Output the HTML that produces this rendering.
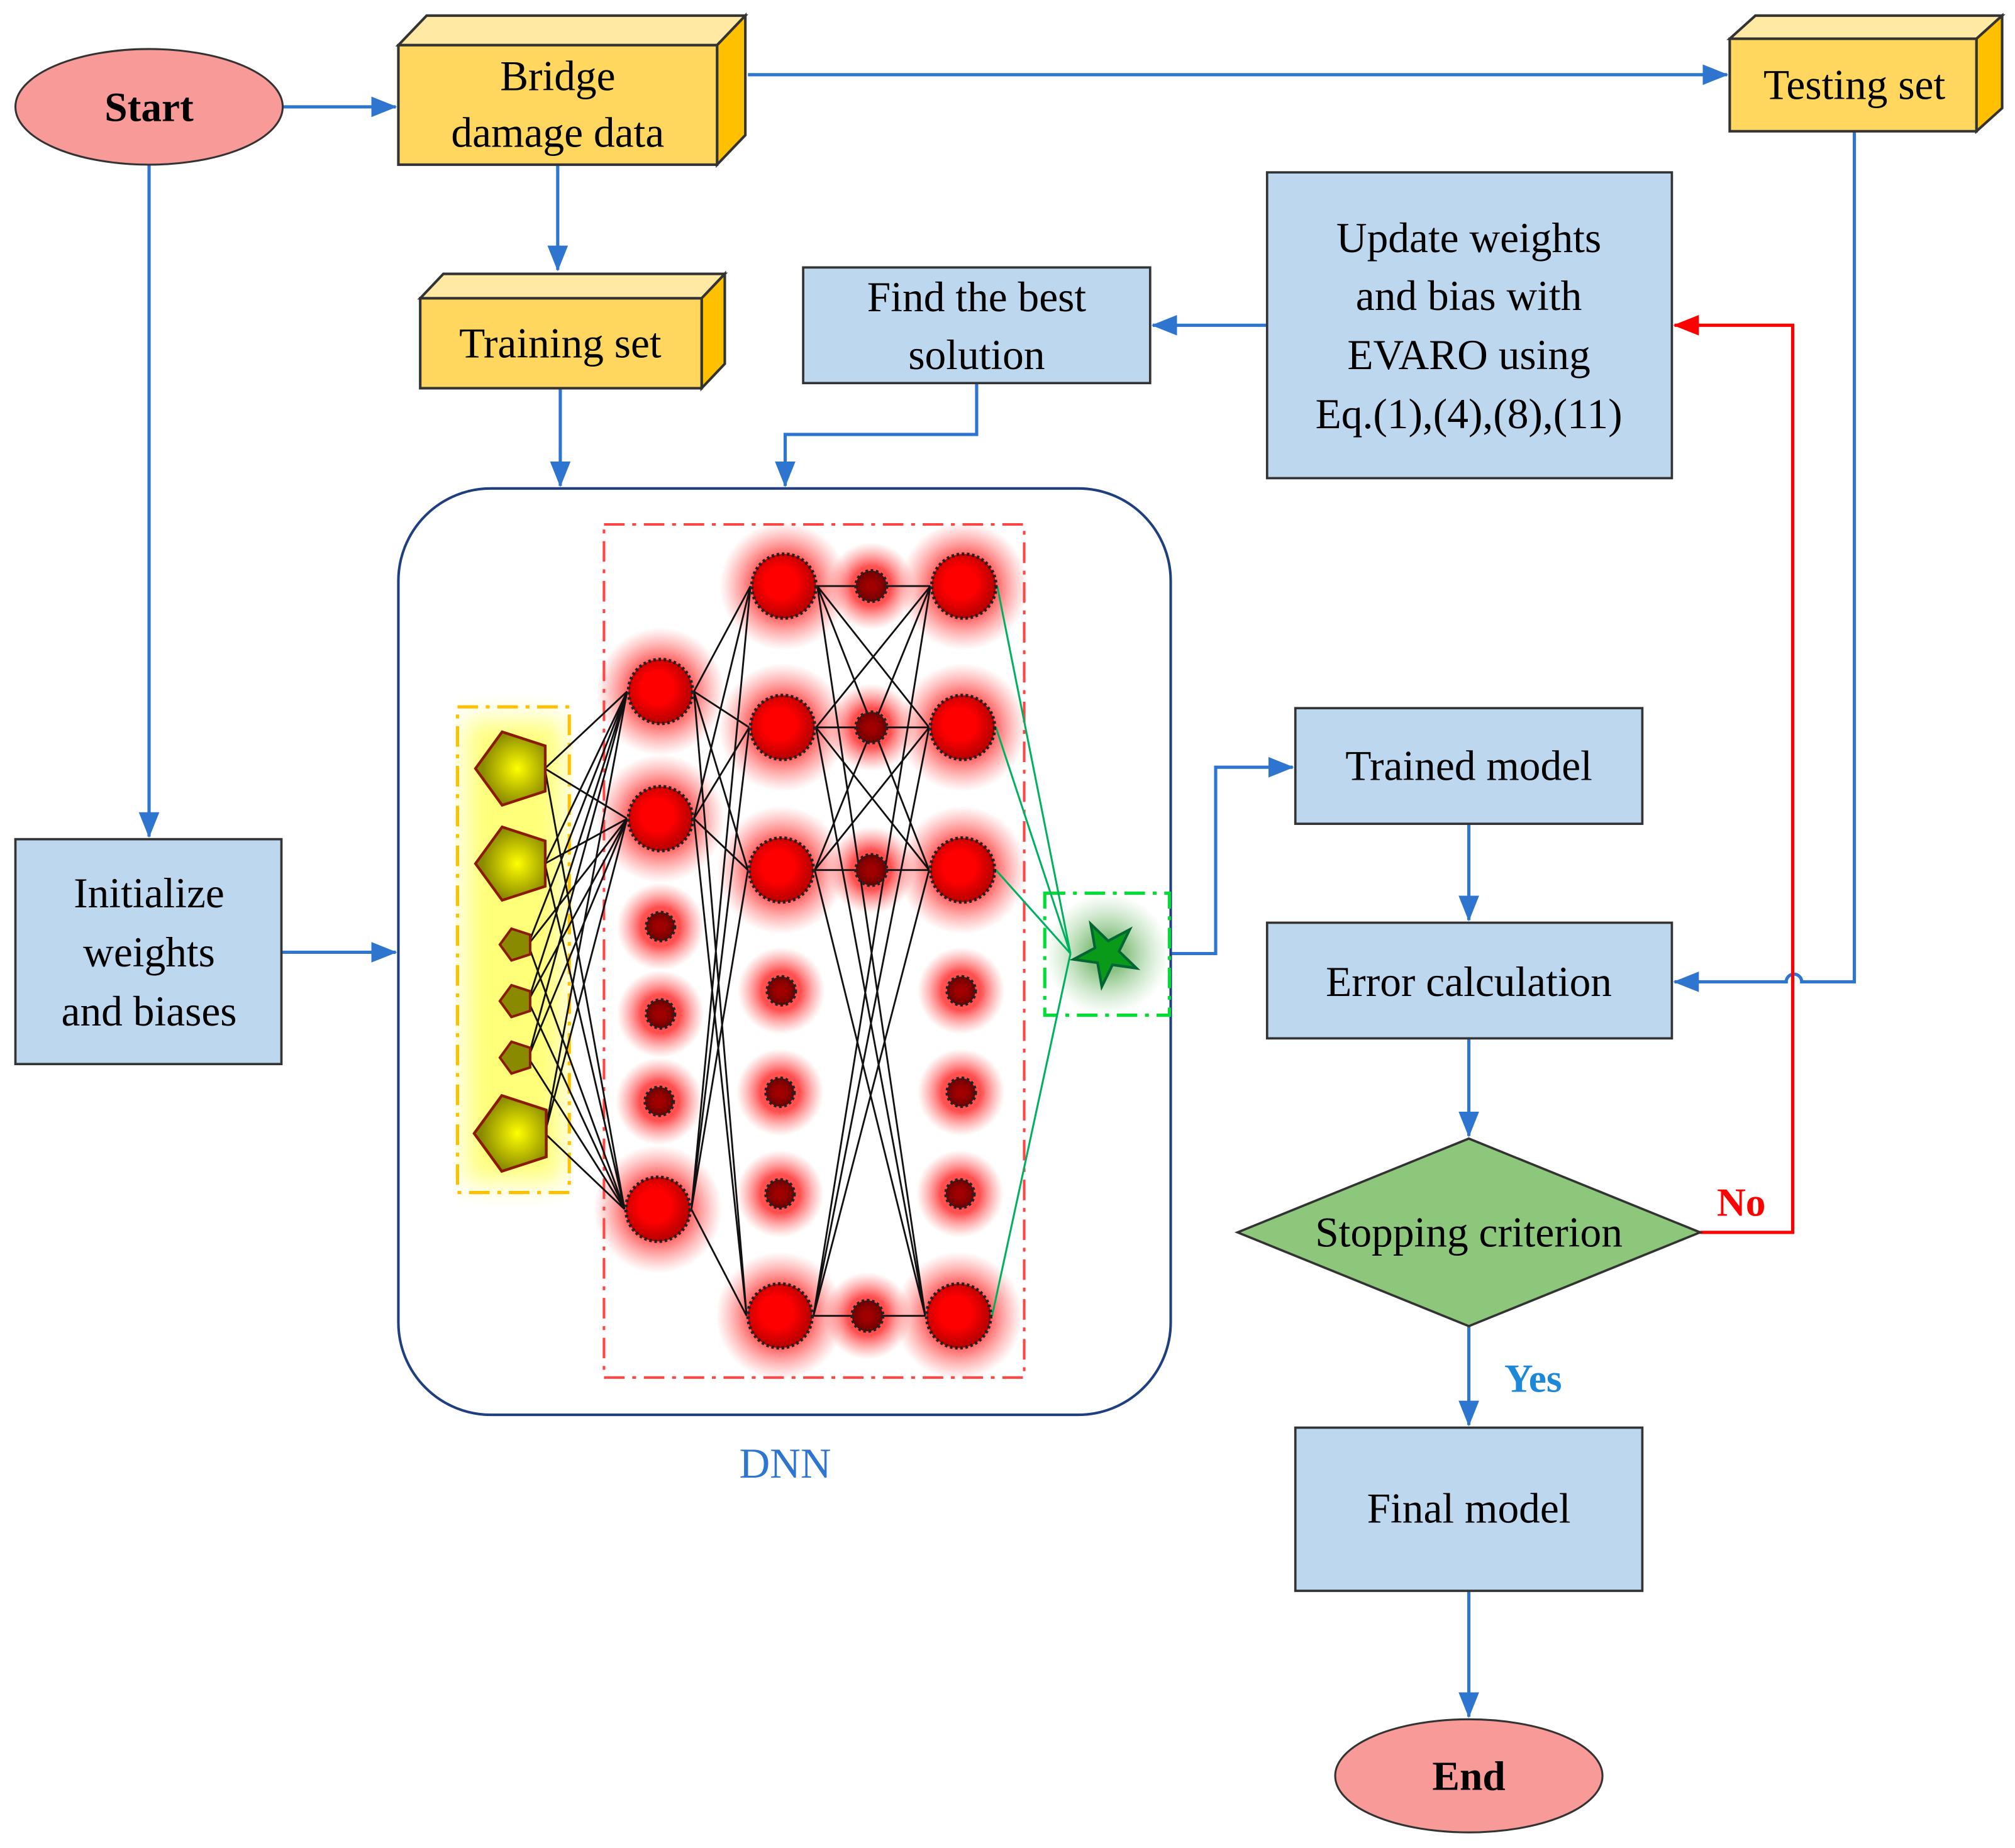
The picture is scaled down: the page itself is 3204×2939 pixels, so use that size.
<!DOCTYPE html>
<html><head><meta charset="utf-8"><style>html,body{margin:0;padding:0;background:#fff}svg{display:block}text{font-family:"Liberation Serif","DejaVu Serif",serif}</style></head><body>
<svg width="3204" height="2939" viewBox="0 0 1568 1438" xmlns="http://www.w3.org/2000/svg" font-family="'Liberation Serif', serif">
<defs>
<marker id="a" markerWidth="20" markerHeight="16" refX="19" refY="8" orient="auto" markerUnits="userSpaceOnUse"><path d="M0,0 L20,8 L0,16Z" fill="#2E75CF"/></marker>
<marker id="ar" markerWidth="20" markerHeight="16" refX="19" refY="8" orient="auto" markerUnits="userSpaceOnUse"><path d="M0,0 L20,8 L0,16Z" fill="#f00"/></marker>
<radialGradient id="glow"><stop offset="0.45" stop-color="#ff3030" stop-opacity="0.85"/><stop offset="1" stop-color="#ff6060" stop-opacity="0"/></radialGradient>
<radialGradient id="gg"><stop offset="0.3" stop-color="#5aa850" stop-opacity="0.7"/><stop offset="1" stop-color="#8c8" stop-opacity="0"/></radialGradient>
<radialGradient id="rn" cx="0.45" cy="0.45"><stop offset="0.5" stop-color="#ff0000"/><stop offset="1" stop-color="#c00000"/></radialGradient>
<radialGradient id="dn"><stop offset="0.3" stop-color="#a00000"/><stop offset="1" stop-color="#700000"/></radialGradient>
<radialGradient id="yp" cx="0.6" cy="0.5"><stop offset="0" stop-color="#ffff00"/><stop offset="1" stop-color="#8a8a00"/></radialGradient>
<filter id="bl"><feGaussianBlur stdDeviation="10"/></filter>
</defs>
<g stroke="#2E75CF" stroke-width="2.5" fill="none">
<path d="M220,83 L308,83" marker-end="url(#a)"/>
<path d="M582,58 L1344,58" marker-end="url(#a)"/>
<path d="M434,128 L434,210" marker-end="url(#a)"/>
<path d="M116,128 L116,651" marker-end="url(#a)"/>
<path d="M1443,102 L1443,764 L1402,764 A6,6 0 0 0 1390,764 L1303,764" marker-end="url(#a)"/>
<path d="M986,253 L897,253" marker-end="url(#a)"/>
<path d="M436,302 L436,378" marker-end="url(#a)"/>
<path d="M760,298 L760,338 L611,338 L611,378" marker-end="url(#a)"/>
<path d="M219,741 L308,741" marker-end="url(#a)"/>
<path d="M912,742 L946,742 L946,597 L1006,597" marker-end="url(#a)"/>
<path d="M1143,641 L1143,716" marker-end="url(#a)"/>
<path d="M1143,808 L1143,884" marker-end="url(#a)"/>
<path d="M1143,1032 L1143,1109" marker-end="url(#a)"/>
<path d="M1143,1238 L1143,1336" marker-end="url(#a)"/>
</g>
<path d="M1323,959 L1395,959 L1395,253 L1303,253" stroke="#f00" stroke-width="2.5" fill="none" marker-end="url(#ar)"/>

<ellipse cx="116" cy="83" rx="104" ry="45" fill="#F89A98" stroke="#333" stroke-width="1.5"/>
<text x="116" y="94" font-size="32" font-weight="bold" text-anchor="middle">Start</text>
<ellipse cx="1143" cy="1382" rx="104" ry="44" fill="#F89A98" stroke="#333" stroke-width="1.5"/>
<text x="1143" y="1393" font-size="32" font-weight="bold" text-anchor="middle">End</text>

<g stroke="#333" stroke-width="2">
<path d="M310,35 L332,12 L580,12 L558,35Z" fill="#FFE9A3"/>
<path d="M558,35 L580,12 L580,105 L558,128Z" fill="#FFC000"/>
<rect x="310" y="35" width="248" height="93" fill="#FFD75E"/>
<path d="M1346,30 L1366,12 L1558,12 L1538,30Z" fill="#FFE9A3"/>
<path d="M1538,30 L1558,12 L1558,84 L1538,102Z" fill="#FFC000"/>
<rect x="1346" y="30" width="192" height="72" fill="#FFD75E"/>
<path d="M327,232 L345,213 L564,213 L546,232Z" fill="#FFE9A3"/>
<path d="M546,232 L564,213 L564,283 L546,302Z" fill="#FFC000"/>
<rect x="327" y="232" width="219" height="70" fill="#FFD75E"/>
</g>
<g font-size="33" text-anchor="middle">
<text x="434" y="70">Bridge</text>
<text x="434" y="114">damage data</text>
<text x="1443" y="77">Testing set</text>
<text x="436" y="278">Training set</text>
</g>

<g fill="#BDD7EE" stroke="#333" stroke-width="1.8">
<rect x="625" y="208" width="270" height="90"/>
<rect x="986" y="134" width="315" height="238"/>
<rect x="12" y="653" width="207" height="175"/>
<rect x="1008" y="551" width="270" height="90"/>
<rect x="986" y="718" width="315" height="90"/>
<rect x="1008" y="1111" width="270" height="127"/>
</g>
<path d="M963,959 L1143,886 L1323,959 L1143,1032Z" fill="#8DC77B" stroke="#333" stroke-width="1.8"/>
<g font-size="33" text-anchor="middle">
<text x="760" y="242">Find the best</text>
<text x="760" y="287">solution</text>
<text x="1143" y="196">Update  weights</text>
<text x="1143" y="241">and bias with</text>
<text x="1143" y="287">EVARO using</text>
<text x="1143" y="333">Eq.(1),(4),(8),(11)</text>
<text x="116" y="706">Initialize</text>
<text x="116" y="752">weights</text>
<text x="116" y="798">and biases</text>
<text x="1143" y="607">Trained model</text>
<text x="1143" y="775">Error calculation</text>
<text x="1143" y="970">Stopping criterion</text>
<text x="1143" y="1185">Final model</text>
</g>
<text x="1355" y="946" font-size="31" font-weight="bold" fill="#f00" text-anchor="middle">No</text>
<text x="1193" y="1083" font-size="31" font-weight="bold" fill="#1E88D8" text-anchor="middle">Yes</text>
<text x="611" y="1150" font-size="33" fill="#2E75CF" text-anchor="middle">DNN</text>

<rect x="310" y="380" width="601" height="721" rx="72" fill="none" stroke="#1F3F80" stroke-width="2"/>
<rect x="470" y="408" width="327" height="664" fill="none" stroke="#f44" stroke-width="2" stroke-dasharray="16,6,3,6"/>
<rect x="362" y="560" width="76" height="360" fill="#ffff40" opacity="0.7" filter="url(#bl)"/>
<rect x="356" y="550" width="87" height="378" fill="none" stroke="#FFC000" stroke-width="2.5" stroke-dasharray="16,6,3,6"/>
<rect x="813" y="695" width="97" height="95" fill="url(#gg)"/>
<rect x="813" y="695" width="97" height="95" fill="none" stroke="#00dd33" stroke-width="2.5" stroke-dasharray="16,6,3,6"/>

<g fill="url(#glow)">
<circle cx="514" cy="538" r="50"/><circle cx="514" cy="637" r="50"/><circle cx="512" cy="941" r="50"/>
<circle cx="514" cy="721" r="34"/><circle cx="514" cy="789" r="34"/><circle cx="513" cy="857" r="34"/>
<circle cx="610" cy="456" r="50"/><circle cx="609" cy="566" r="50"/><circle cx="608" cy="677" r="50"/><circle cx="607" cy="1024" r="50"/>
<circle cx="608" cy="771" r="34"/><circle cx="607" cy="850" r="34"/><circle cx="607" cy="929" r="34"/>
<circle cx="678" cy="456" r="34"/><circle cx="678" cy="566" r="34"/><circle cx="678" cy="677" r="34"/><circle cx="675" cy="1024" r="34"/>
<circle cx="750" cy="456" r="50"/><circle cx="749" cy="566" r="50"/><circle cx="749" cy="677" r="50"/><circle cx="746" cy="1024" r="50"/>
<circle cx="748" cy="771" r="34"/><circle cx="748" cy="850" r="34"/><circle cx="747" cy="929" r="34"/>
</g>

<g stroke="#111" stroke-width="1.4" fill="none">
<path d="M424,598 L488,538 M424,598 L488,637 M424,598 L486,941
M424,672 L488,538 M424,672 L488,637 M424,672 L486,941
M411,735 L488,538 M411,735 L488,637 M411,735 L486,941
M411,779 L488,538 M411,779 L488,637 M411,779 L486,941
M411,823 L488,538 M411,823 L488,637 M411,823 L486,941
M424,882 L488,538 M424,882 L488,637 M424,882 L486,941"/>
<path d="M540,538 L584,456 M540,538 L583,566 M540,538 L582,677 M540,538 L581,1024
M540,637 L584,456 M540,637 L583,566 M540,637 L582,677 M540,637 L581,1024
M538,941 L584,456 M538,941 L583,566 M538,941 L582,677 M538,941 L581,1024"/>
<path d="M636,456 L724,456 M636,456 L723,566 M636,456 L723,677 M636,456 L720,1024
M635,566 L724,456 M635,566 L723,566 M635,566 L723,677 M635,566 L720,1024
M634,677 L724,456 M634,677 L723,566 M634,677 L723,677 M634,677 L720,1024
M633,1024 L724,456 M633,1024 L723,566 M633,1024 L723,677 M633,1024 L720,1024"/>
</g>
<g stroke="#00B060" stroke-width="1.5" fill="none">
<path d="M776,456 L833,742 M775,566 L833,742 M775,677 L833,742 M772,1024 L833,742"/>
</g>

<g stroke="#222" stroke-width="2.5" stroke-dasharray="2,2">
<g fill="url(#rn)">
<circle cx="514" cy="538" r="25"/><circle cx="514" cy="637" r="25"/><circle cx="512" cy="941" r="25"/>
<circle cx="610" cy="456" r="25"/><circle cx="609" cy="566" r="25"/><circle cx="608" cy="677" r="25"/><circle cx="607" cy="1024" r="25"/>
<circle cx="750" cy="456" r="25"/><circle cx="749" cy="566" r="25"/><circle cx="749" cy="677" r="25"/><circle cx="746" cy="1024" r="25"/>
</g>
<g fill="url(#dn)">
<circle cx="514" cy="721" r="11"/><circle cx="514" cy="789" r="11"/><circle cx="513" cy="857" r="11"/>
<circle cx="608" cy="771" r="11"/><circle cx="607" cy="850" r="11"/><circle cx="607" cy="929" r="11"/>
<circle cx="678" cy="456" r="12"/><circle cx="678" cy="566" r="12"/><circle cx="678" cy="677" r="12"/><circle cx="675" cy="1024" r="12"/>
<circle cx="748" cy="771" r="11"/><circle cx="748" cy="850" r="11"/><circle cx="747" cy="929" r="11"/>
</g>
</g>
<g fill="url(#yp)" stroke="#8B1A00" stroke-width="2">
<polygon transform="translate(400,598) scale(30)" stroke-width="0.07" points="-1,0 -0.309,-0.951 0.809,-0.588 0.809,0.588 -0.309,0.951"/>
<polygon transform="translate(400,672) scale(30)" stroke-width="0.07" points="-1,0 -0.309,-0.951 0.809,-0.588 0.809,0.588 -0.309,0.951"/>
<polygon transform="translate(400,882) scale(31)" stroke-width="0.07" points="-1,0 -0.309,-0.951 0.809,-0.588 0.809,0.588 -0.309,0.951"/>
<polygon transform="translate(402,735) scale(13)" stroke-width="0.15" points="-1,0 -0.309,-0.951 0.809,-0.588 0.809,0.588 -0.309,0.951" fill="#8a8a00"/>
<polygon transform="translate(402,779) scale(13)" stroke-width="0.15" points="-1,0 -0.309,-0.951 0.809,-0.588 0.809,0.588 -0.309,0.951" fill="#8a8a00"/>
<polygon transform="translate(402,823) scale(13)" stroke-width="0.15" points="-1,0 -0.309,-0.951 0.809,-0.588 0.809,0.588 -0.309,0.951" fill="#8a8a00"/>
</g>
<polygon transform="translate(861,742) rotate(-100) scale(26)" stroke-width="0.08" fill="#0A9A1A" stroke="#063"
 points="0,-1 0.225,-0.309 0.951,-0.309 0.363,0.118 0.588,0.809 0,0.382 -0.588,0.809 -0.363,0.118 -0.951,-0.309 -0.225,-0.309"/>
</svg>
</body></html>
